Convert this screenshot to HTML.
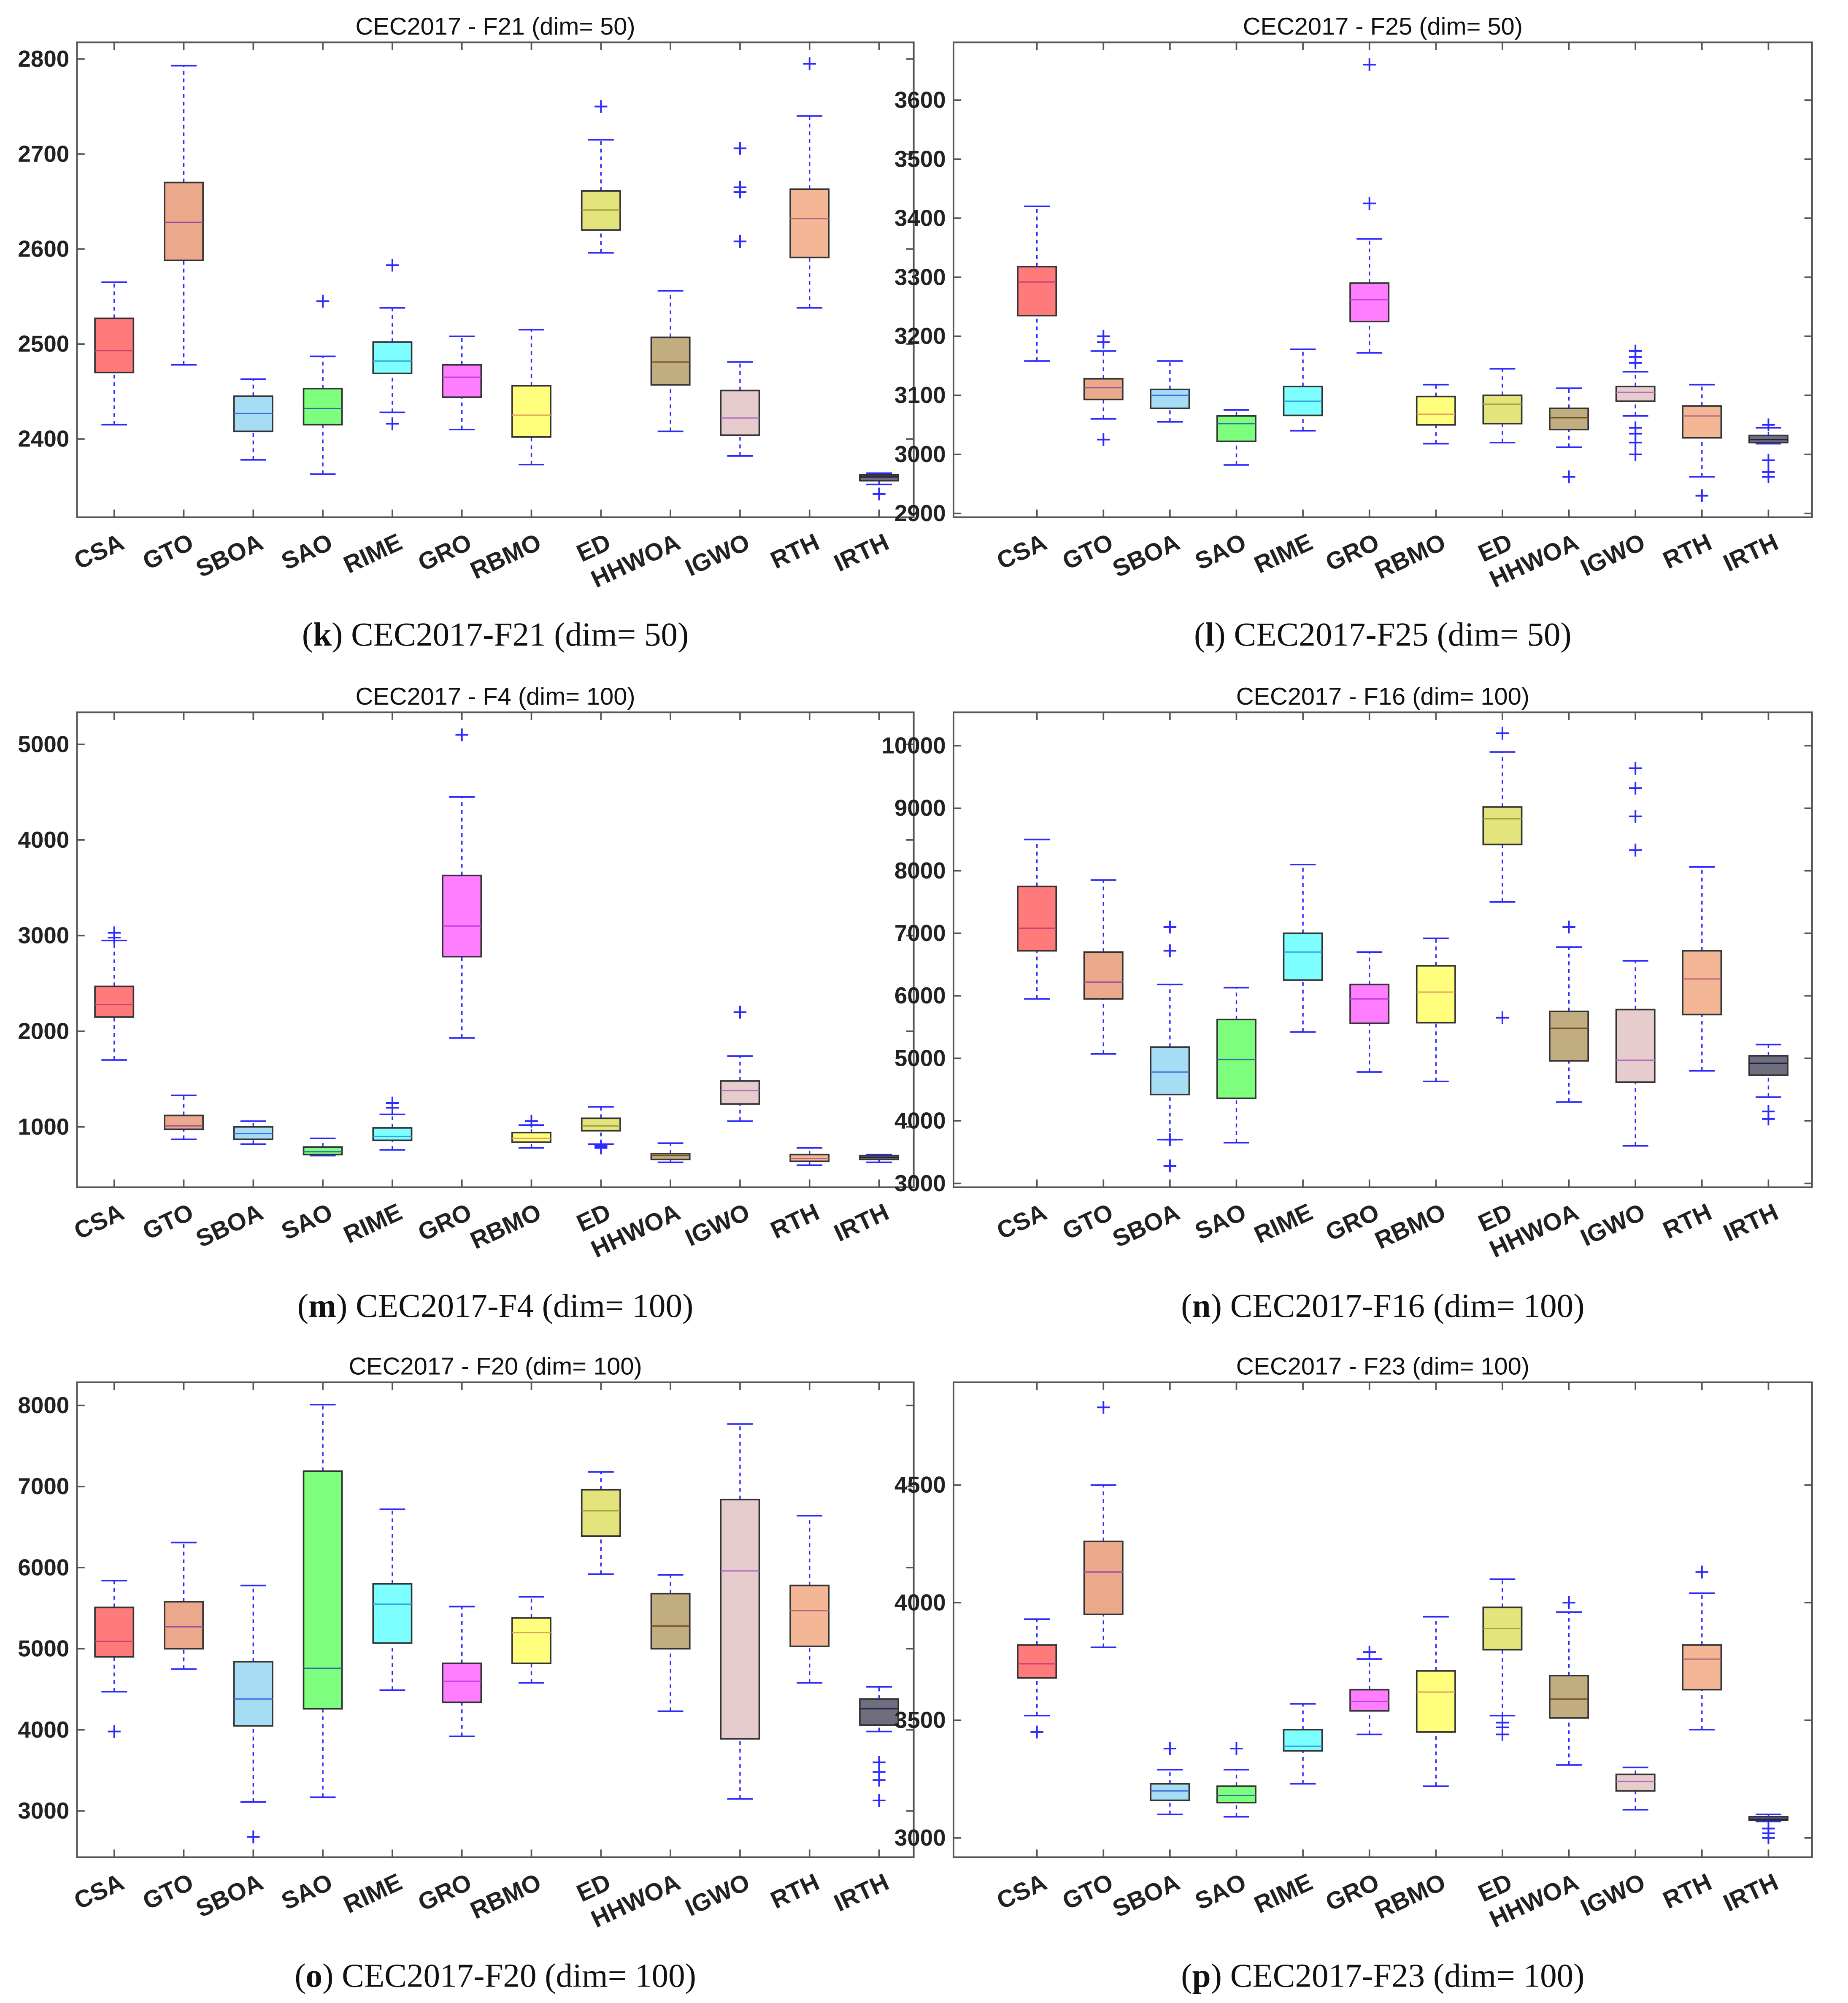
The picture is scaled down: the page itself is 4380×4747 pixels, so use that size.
<!DOCTYPE html>
<html><head><meta charset="utf-8"><style>
html,body{margin:0;padding:0;background:#fff;}
svg{display:block;}
</style></head><body>
<svg id="fig" xmlns="http://www.w3.org/2000/svg" width="4380" height="4747" viewBox="0 0 1440 1560.6" preserveAspectRatio="none" font-family="'Liberation Sans', Arial, sans-serif"></svg>
<script>
const cats=["CSA","GTO","SBOA","SAO","RIME","GRO","RBMO","ED","HHWOA","IGWO","RTH","IRTH"];
const fills=["#ff7b7b","#eba98b","#a6dcf4","#7dff7d","#7dffff","#ff7dff","#ffff7d","#e4e47d","#c2ad80","#e6cccc","#f4b796","#6e6e7e"];
const meds=["#d04070","#a050a0","#4070e0","#3070a0","#30a0e0","#c040e0","#e0a060","#a0a040","#705020","#b070c0","#c06080","#202040"];
// [low whisker, q1, median, q3, high whisker]
const f21Box=[[2415,2470,2493,2527,2565],[2478,2588,2628,2670,2793],[2378,2408,2427,2445,2463],[2363,2415,2432,2453,2487],[2428,2469,2482,2502,2538],[2410,2444,2465,2478,2508],[2373,2402,2425,2456,2515],[2596,2620,2641,2661,2715],[2408,2457,2481,2507,2556],[2382,2404,2422,2451,2481],[2538,2591,2632,2663,2740],[2352,2356,2360,2362,2364]];
const f21Out=[[],[],[],[2545],[2583,2416],[],[],[2750],[],[2608,2660,2665,2706],[2795],[2342]];
const f25Box=[[3158,3235,3292,3318,3420],[3060,3093,3113,3128,3175],[3055,3078,3100,3110,3158],[2982,3022,3052,3065,3075],[3040,3066,3090,3115,3178],[3172,3225,3262,3290,3365],[3018,3050,3068,3098,3118],[3020,3052,3085,3100,3145],[3012,3042,3062,3078,3112],[3065,3090,3105,3115,3140],[2962,3028,3065,3082,3118],[3018,3020,3025,3032,3045]];
const f25Out=[[],[3200,3190,3025],[],[],[],[3425,3660],[],[],[2962],[3155,3165,3175,3045,3035,3020,3000],[2930],[3050,2990,2970,2962]];
const f4Box=[[1700,2150,2280,2470,2950],[870,975,1010,1120,1330],[820,870,930,1000,1060],[700,710,740,790,880],[760,860,900,990,1130],[1930,2780,3100,3630,4450],[780,840,880,940,1020],[820,960,1010,1090,1210],[630,660,700,720,830],[1060,1240,1380,1480,1740],[600,640,670,710,780],[630,660,680,700,710]];
const f4Out=[[3030,2980],[],[],[],[1250,1200],[5100],[1060],[780,800],[],[2200],[],[]];
const f16Box=[[5950,6720,7080,7750,8500],[5070,5950,6220,6700,7850],[3700,4420,4780,5180,6180],[3650,4360,4980,5620,6130],[5420,6250,6700,7000,8100],[4780,5560,5950,6180,6700],[4630,5570,6060,6480,6920],[7500,8420,8830,9020,9900],[4300,4960,5480,5750,6780],[3600,4620,4970,5780,6560],[4800,5700,6270,6720,8060],[4380,4730,4920,5040,5220]];
const f16Out=[[],[],[6720,7100,3700,3280],[],[],[],[],[10200,5650],[7100],[8330,8870,9320,9640],[],[4150,4030]];
const f20Box=[[4470,4900,5090,5510,5840],[4750,5000,5270,5580,6310],[3110,4050,4380,4840,5780],[3170,4260,4760,7190,8010],[4490,5070,5550,5800,6720],[3920,4340,4600,4820,5520],[4580,4820,5200,5380,5640],[5920,6390,6700,6960,7180],[4230,5000,5280,5680,5910],[3150,3890,5960,6840,7770],[4580,5030,5470,5780,6640],[3980,4060,4260,4380,4530]];
const f20Out=[[3980],[],[2680],[],[],[],[],[],[],[],[],[3600,3480,3380,3130]];
const f23Box=[[3520,3680,3740,3820,3930],[3810,3950,4130,4260,4500],[3100,3160,3200,3230,3290],[3090,3150,3180,3220,3290],[3230,3370,3390,3460,3570],[3440,3540,3580,3630,3760],[3220,3450,3620,3710,3940],[3520,3800,3890,3980,4100],[3310,3510,3590,3690,3960],[3120,3200,3240,3270,3300],[3460,3630,3760,3820,4040],[3070,3075,3080,3090,3100]];
const f23Out=[[3450],[4830],[3380],[3380],[],[3790],[],[3490,3470,3440],[4000],[],[4130],[3040,3020,3000]];
const f21Ticks=[2400,2500,2600,2700,2800];
const f25Ticks=[2900,3000,3100,3200,3300,3400,3500,3600];
const f4Ticks=[1000,2000,3000,4000,5000];
const f16Ticks=[3000,4000,5000,6000,7000,8000,9000,10000];
const f20Ticks=[3000,4000,5000,6000,7000,8000];
const f23Ticks=[3000,3500,4000,4500];

const NS="http://www.w3.org/2000/svg";
const svg=document.getElementById('fig');
function mk(tag,attrs,parent){const e=document.createElementNS(NS,tag);for(const k in attrs)e.setAttribute(k,attrs[k]);(parent||svg).appendChild(e);return e;}

const panels=[
 {id:"k",title:"CEC2017 - F21 (dim= 50)",cap:"CEC2017-F21 (dim= 50)",x0:60,x1:712,y0:33,y1:403,v0:2400,p0:342,v1:2800,p1:46,box:f21Box,out:f21Out,ticks:f21Ticks,c0:89,c1:685,capY:497},
 {id:"l",title:"CEC2017 - F25 (dim= 50)",cap:"CEC2017-F25 (dim= 50)",x0:743,x1:1412,y0:33,y1:403,v0:2900,p0:400,v1:3600,p1:78,box:f25Box,out:f25Out,ticks:f25Ticks,c0:808,c1:1378,capY:497},
 {id:"m",title:"CEC2017 - F4 (dim= 100)",cap:"CEC2017-F4 (dim= 100)",x0:60,x1:712,y0:555,y1:925,v0:1000,p0:878,v1:5000,p1:580,box:f4Box,out:f4Out,ticks:f4Ticks,c0:89,c1:685,capY:1020},
 {id:"n",title:"CEC2017 - F16 (dim= 100)",cap:"CEC2017-F16 (dim= 100)",x0:743,x1:1412,y0:555,y1:925,v0:3000,p0:922,v1:10000,p1:581,box:f16Box,out:f16Out,ticks:f16Ticks,c0:808,c1:1378,capY:1020},
 {id:"o",title:"CEC2017 - F20 (dim= 100)",cap:"CEC2017-F20 (dim= 100)",x0:60,x1:712,y0:1077,y1:1447,v0:3000,p0:1411,v1:8000,p1:1095,box:f20Box,out:f20Out,ticks:f20Ticks,c0:89,c1:685,capY:1542},
 {id:"p",title:"CEC2017 - F23 (dim= 100)",cap:"CEC2017-F23 (dim= 100)",x0:743,x1:1412,y0:1077,y1:1447,v0:3000,p0:1432,v1:4500,p1:1157,box:f23Box,out:f23Out,ticks:f23Ticks,c0:808,c1:1378,capY:1542}
];

panels.forEach(P=>{
 const g=mk('g',{});
 
 
 const y=v=>P.p0+(v-P.v0)*(P.p1-P.p0)/(P.v1-P.v0);
 const x=i=>P.c0+i*(P.c1-P.c0)/(cats.length-1);
 const t=mk('text',{x:(P.x0+P.x1)/2,y:P.y0-6,'text-anchor':'middle','font-size':19,fill:'#111'},g);
 t.textContent=P.title;
 
 
 const frame=mk('rect',{x:P.x0,y:P.y0,width:P.x1-P.x0,height:P.y1-P.y0,fill:'none',stroke:'#555','stroke-width':1.3},g);
 
 
 P.ticks.forEach(v=>{
  const yy=y(v);
  mk('line',{x1:P.x0,x2:P.x0+6,y1:yy,y2:yy,stroke:'#555','stroke-width':1.2},g);
  mk('line',{x1:P.x1,x2:P.x1-6,y1:yy,y2:yy,stroke:'#555','stroke-width':1.2},g);
  const tl=mk('text',{x:P.x0-6,y:yy+6,'text-anchor':'end','font-size':18,'font-weight':'bold',fill:'#222'},g);
  tl.textContent=v;
  
  
 });
 cats.forEach((c,i)=>{
  const cx=x(i), s=P.box[i], hw=15;
  mk('line',{x1:cx,x2:cx,y1:P.y0,y2:P.y0+6,stroke:'#555','stroke-width':1.2},g);
  mk('line',{x1:cx,x2:cx,y1:P.y1,y2:P.y1-6,stroke:'#555','stroke-width':1.2},g);
  const lab=mk('text',{x:cx+9,y:P.y1+24,'text-anchor':'end','font-size':19,'font-weight':'bold',fill:'#222',transform:`rotate(-25 ${cx+9} ${P.y1+24})`},g);
  lab.textContent=c;
  
  
  const bg=mk('g',{},g);
  
  
  mk('line',{x1:cx,x2:cx,y1:y(s[0]),y2:y(s[1]),stroke:'#2a2aff','stroke-width':1.1,'stroke-dasharray':'3,3'},bg);
  mk('line',{x1:cx,x2:cx,y1:y(s[3]),y2:y(s[4]),stroke:'#2a2aff','stroke-width':1.1,'stroke-dasharray':'3,3'},bg);
  mk('line',{x1:cx-10,x2:cx+10,y1:y(s[0]),y2:y(s[0]),stroke:'#2a2aff','stroke-width':1.2},bg);
  mk('line',{x1:cx-10,x2:cx+10,y1:y(s[4]),y2:y(s[4]),stroke:'#2a2aff','stroke-width':1.2},bg);
  mk('rect',{x:cx-hw,y:y(s[3]),width:2*hw,height:Math.max(1,y(s[1])-y(s[3])),fill:fills[i],stroke:'#333','stroke-width':1.2},bg);
  mk('line',{x1:cx-hw,x2:cx+hw,y1:y(s[2]),y2:y(s[2]),stroke:meds[i],'stroke-width':1},bg);
  P.out[i].forEach(v=>{
   const oy=y(v);
   mk('path',{d:`M${cx-5} ${oy}H${cx+5}M${cx} ${oy-5}V${oy+5}`,stroke:'#2a2aff','stroke-width':1.3,fill:'none'},bg);
  });
 });
 const cap=mk('text',{x:(P.x0+P.x1)/2,y:P.capY+6,'text-anchor':'middle','font-size':26,'font-family':"'Liberation Serif', serif",fill:'#111'},g);
 
 
 const t1=mk('tspan',{},cap);t1.textContent='(';
 const t2=mk('tspan',{'font-weight':'bold'},cap);t2.textContent=P.id;
 const t3=mk('tspan',{},cap);t3.textContent=') '+P.cap;
});
</script>
</body></html>
